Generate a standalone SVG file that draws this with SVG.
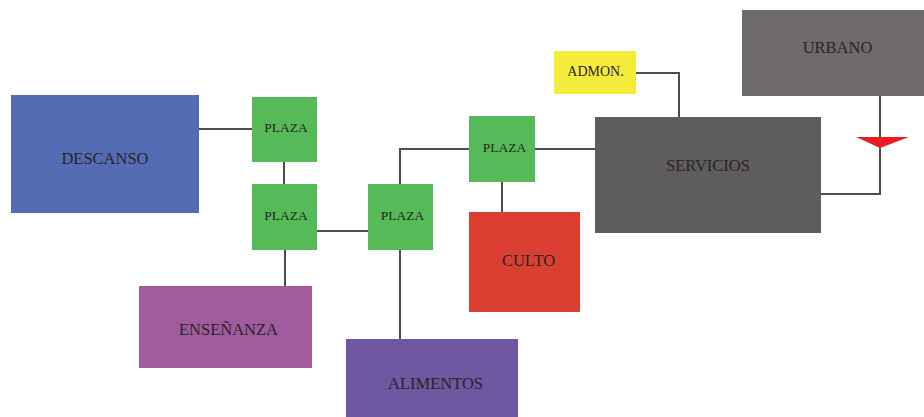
<svg xmlns="http://www.w3.org/2000/svg" width="924" height="417" viewBox="0 0 924 417">
<style>
.lbl{font-family:"Liberation Serif","Times New Roman",serif;fill:#2a2426;text-anchor:middle;font-size:16.5px}
.sm{font-size:13.5px}
.ad{font-size:14px}
.ln{fill:none;stroke:#4d4d4d;stroke-width:2}
.plaza{fill:#55ba57}
</style>
<rect width="924" height="417" fill="#ffffff"/>
<g id="connectors">
<path class="ln" d="M198,129H252"/>
<path class="ln" d="M284,162V186"/>
<path class="ln" d="M317,231H368"/>
<path class="ln" d="M285,250V286"/>
<path class="ln" d="M400,250V339"/>
<path class="ln" d="M400,184V149H469"/>
<path class="ln" d="M535,149H595"/>
<path class="ln" d="M502,182V212"/>
<path class="ln" d="M636,73H679V117"/>
<path class="ln" d="M880,96V194H821"/>
<polygon points="856,137 909,137 880,148" fill="#ec1c24"/>
</g>
<g id="descanso"><rect x="11" y="95" width="188" height="118" fill="#536cb4"/><text class="lbl" x="105" y="164">DESCANSO</text></g>
<g id="plaza1"><rect class="plaza" x="252" y="97" width="65" height="65"/><text class="lbl sm" x="286" y="132">PLAZA</text></g>
<g id="plaza2"><rect class="plaza" x="252" y="184" width="65" height="66"/><text class="lbl sm" x="286" y="220">PLAZA</text></g>
<g id="plaza3"><rect class="plaza" x="368" y="184" width="65" height="66"/><text class="lbl sm" x="402.5" y="220">PLAZA</text></g>
<g id="plaza4"><rect class="plaza" x="469" y="116" width="66" height="66"/><text class="lbl sm" x="504.5" y="152">PLAZA</text></g>
<g id="admon"><rect x="554" y="51" width="82" height="43" fill="#f4ec3a"/><text class="lbl ad" x="595.5" y="76">ADMON.</text></g>
<g id="urbano"><rect x="742" y="10" width="182" height="86" fill="#6e6a6a"/><text class="lbl" x="837.5" y="53">URBANO</text></g>
<g id="servicios"><rect x="595" y="117" width="226" height="116" fill="#5f5d5b"/><text class="lbl" x="708" y="171">SERVICIOS</text></g>
<g id="culto"><rect x="469" y="212" width="111" height="100" fill="#da3f31"/><text class="lbl" x="528.5" y="266">CULTO</text></g>
<g id="ensenanza"><rect x="139" y="286" width="173" height="82" fill="#a15c9f"/><text class="lbl" x="228.5" y="335">ENSEÑANZA</text></g>
<g id="alimentos"><rect x="346" y="339" width="172" height="78" fill="#6f57a1"/><text class="lbl" x="435.5" y="389">ALIMENTOS</text></g>
</svg>
